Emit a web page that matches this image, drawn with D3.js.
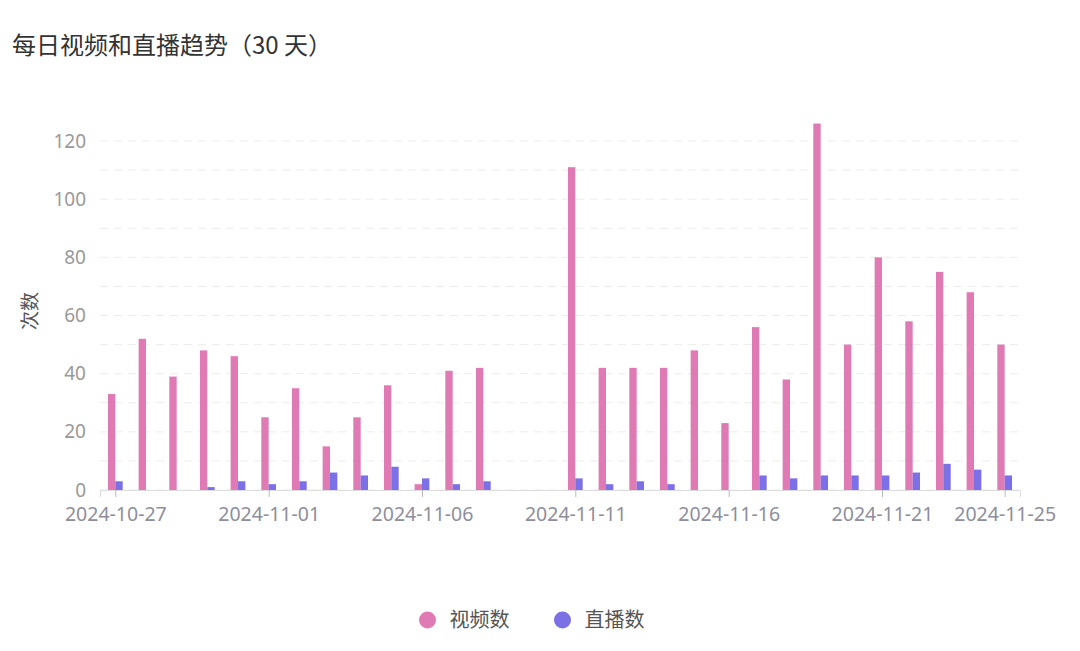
<!DOCTYPE html>
<html><head><meta charset="utf-8">
<script src="https://cdn.jsdelivr.net/npm/d3@7"></script>
<style>
html,body{margin:0;padding:0;background:#fff;}
svg{display:block;font-family:"Noto Sans CJK SC","Noto Sans",sans-serif;}
</style></head>
<body><svg id="c" width="1080" height="651"></svg>
<script>
const title = "每日视频和直播趋势（30 天）";
const dates = ["2024-10-27","2024-10-28","2024-10-29","2024-10-30","2024-10-31","2024-11-01","2024-11-02","2024-11-03","2024-11-04","2024-11-05","2024-11-06","2024-11-07","2024-11-08","2024-11-09","2024-11-10","2024-11-11","2024-11-12","2024-11-13","2024-11-14","2024-11-15","2024-11-16","2024-11-17","2024-11-18","2024-11-19","2024-11-20","2024-11-21","2024-11-22","2024-11-23","2024-11-24","2024-11-25"];
const videos = [33,52,39,48,46,25,35,15,25,36,2,41,42,0,0,111,42,42,42,48,23,56,38,126,50,80,58,75,68,50];
const lives  = [3,0,0,1,3,2,3,6,5,8,4,2,3,0,0,4,2,3,2,0,0,5,4,5,5,5,6,9,7,5];
const xTickLabels = ["2024-10-27","2024-11-01","2024-11-06","2024-11-11","2024-11-16","2024-11-21","2024-11-25"];
const yTicks = [0,20,40,60,80,100,120];
const seriesNames = ["视频数","直播数"];
const colors = ["#e07ab5","#7b70e6"];
const yLabel = "次数";

const svg = d3.select("#c");
const parse = d3.utcParse("%Y-%m-%d");
const day = 864e5;
const d0 = parse(dates[0]), d1 = parse(dates[dates.length-1]);
const x = d3.scaleUtc().domain([new Date(+d0 - day/2), new Date(+d1 + day/2)]).range([100,1020]);
const y = d3.scaleLinear().domain([0,120]).range([490,141]);
const bw = (x(new Date(+d0+day)) - x(d0)) * 0.24;

svg.append("text").attr("x",12).attr("y",54).attr("font-size",24).attr("fill","#333").text(title);

// grid
svg.append("g").selectAll("line").data(d3.range(0,121,10)).join("line")
  .attr("x1",100).attr("x2",1020).attr("y1",d=>y(d)).attr("y2",d=>y(d))
  .attr("stroke","#ececec").attr("stroke-width",1).attr("stroke-dasharray","8,6");

// y axis
const yAx = svg.append("g").attr("transform","translate(100,0)")
  .call(d3.axisLeft(y).tickValues(yTicks).tickSize(0).tickPadding(14));
yAx.select(".domain").remove();
yAx.selectAll("text").attr("font-size",19).attr("fill","#999").attr("font-family","'Noto Sans',sans-serif");

svg.append("text").attr("transform","translate(37,311) rotate(-90)").attr("text-anchor","middle")
  .attr("font-size",19).attr("fill","#555").text(yLabel);

// bars
const data = dates.map((d,i)=>({d:parse(d),v:videos[i],l:lives[i]}));
svg.append("g").selectAll("rect").data(data.filter(d=>d.v>0)).join("rect")
  .attr("x",d=>x(d.d)-bw).attr("width",bw).attr("y",d=>y(d.v)).attr("height",d=>y(0)-y(d.v)).attr("fill",colors[0]);
svg.append("g").selectAll("rect").data(data.filter(d=>d.l>0)).join("rect")
  .attr("x",d=>x(d.d)).attr("width",bw).attr("y",d=>y(d.l)).attr("height",d=>y(0)-y(d.l)).attr("fill",colors[1]);

// x axis
const xAx = svg.append("g").attr("transform","translate(0,490)")
  .call(d3.axisBottom(x).tickValues(xTickLabels.map(parse)).tickFormat(d3.utcFormat("%Y-%m-%d")).tickSize(7).tickPadding(10));
xAx.select(".domain").attr("stroke","#dcdcdc");
xAx.selectAll(".tick line").attr("stroke","#bbb");
xAx.selectAll("text").attr("font-size",19.5).attr("fill","#8e8e9c").attr("font-family","'Noto Sans',sans-serif");

// legend
const lg = svg.append("g");
const lx = [427.5, 562.5];
seriesNames.forEach((n,i)=>{
  lg.append("circle").attr("cx",lx[i]).attr("cy",620).attr("r",8.5).attr("fill",colors[i]);
  lg.append("text").attr("x",lx[i]+22).attr("y",627).attr("font-size",20).attr("fill","#555").text(n);
});
</script></body></html>
